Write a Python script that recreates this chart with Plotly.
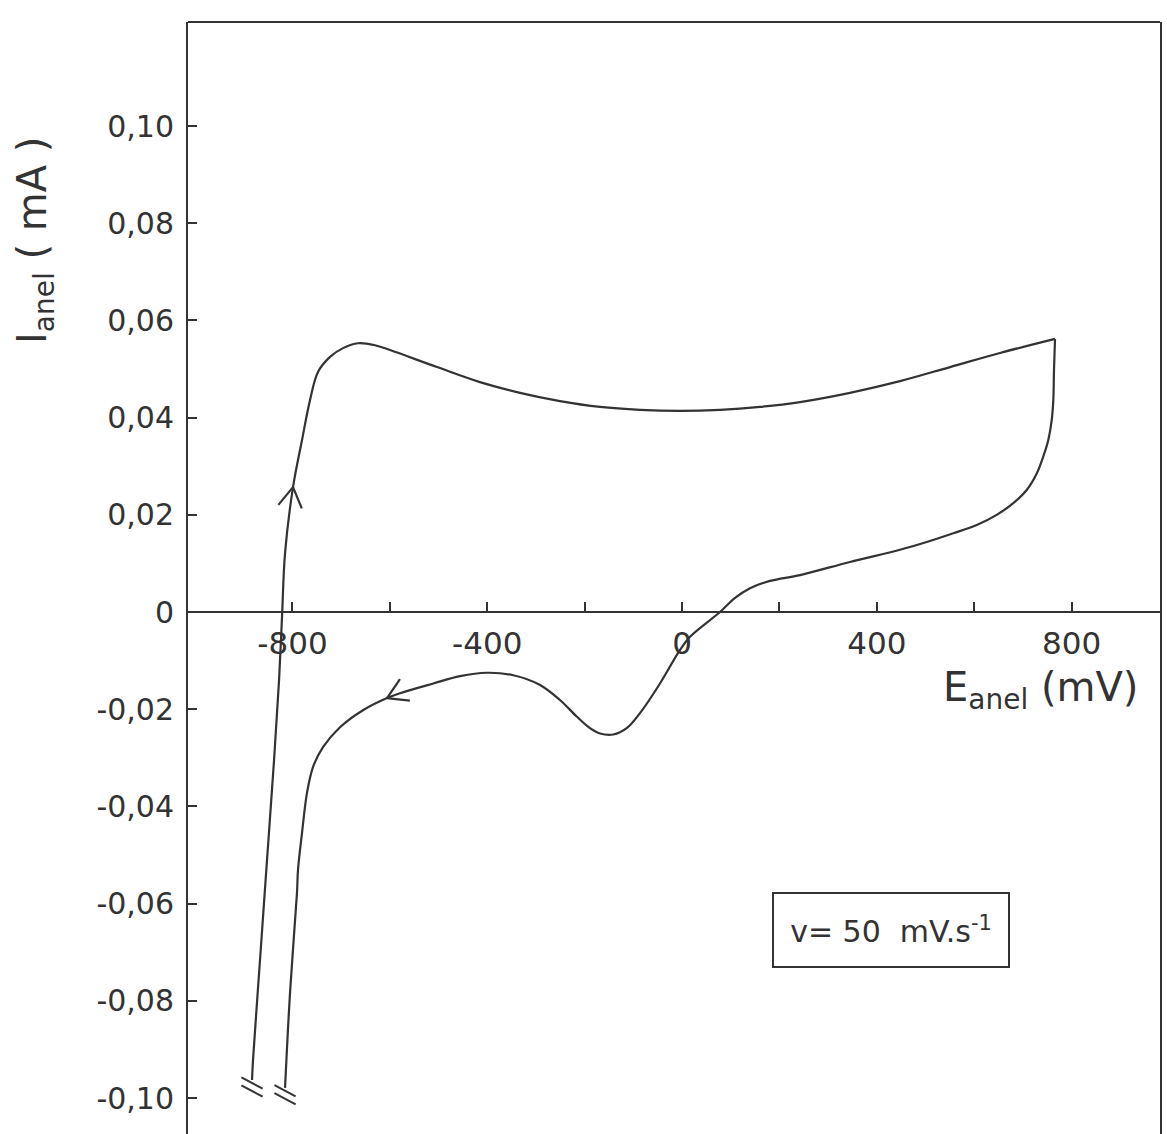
import math
import plotly.graph_objects as go

# ---------------- data ----------------
# anodic sweep (going up on the left, across the top to the vertex)
E_anodic = [-883.1, -881.1, -866.7, -852.3, -837.9, -827.6, -821.5, -815.3, -798.9, -780.4,
            -764.0, -747.6, -722.9, -696.2, -665.4, -630.5, -599.7, -503.2, -414.9, -332.7,
            -250.6, -168.4, -86.3, -4.1, 78.0, 160.2, 242.4, 345.0, 447.7, 550.4, 653.1, 766.1]
I_anodic = [-0.0963, -0.0922, -0.0716, -0.0510, -0.0305, -0.0140, -0.0010, 0.0121, 0.0257, 0.0354,
            0.0436, 0.0494, 0.0525, 0.0543, 0.0553, 0.0549, 0.0539, 0.0504, 0.0473, 0.0451,
            0.0434, 0.0422, 0.0416, 0.0414, 0.0416, 0.0422, 0.0432, 0.0451, 0.0475, 0.0504, 0.0533, 0.0562]
# cathodic sweep (from the vertex back down to the left)
E_cathodic = [766.1, 764.0, 762.6, 759.3, 752.3, 742.0, 728.5, 707.9, 680.4, 646.3, 605.3, 557.2,
              502.6, 447.7, 345.0, 242.4, 180.7, 139.7, 108.9, 78.0, 16.4, -4.1, -45.2, -86.3,
              -113.6, -141.1, -168.4, -189.0, -216.3, -250.6, -291.6, -346.5, -401.1, -455.9,
              -510.8, -579.2, -605.9, -655.2, -702.4, -737.3, -757.9, -770.2, -780.5, -788.7,
              -790.8, -805.1, -815.3]
I_cathodic = [0.0562, 0.0498, 0.0436, 0.0395, 0.0354, 0.0320, 0.0285, 0.0251, 0.0224, 0.0200, 0.0179,
              0.0162, 0.0144, 0.0128, 0.0103, 0.0076, 0.0064, 0.0049, 0.0029, 0.0000, -0.0051, -0.0078,
              -0.0147, -0.0208, -0.0239, -0.0252, -0.0250, -0.0239, -0.0215, -0.0181, -0.0150, -0.0130,
              -0.0125, -0.0132, -0.0147, -0.0167, -0.0177, -0.0202, -0.0237, -0.0278, -0.0319, -0.0372,
              -0.0455, -0.0531, -0.0578, -0.0784, -0.0979]

x_tickvals = [-800, -400, 0, 400, 800]
x_ticktext = ["-800", "-400", "0", "400", "800"]
x_minor_vals = [-600, -200, 200, 600]
y_tickvals = [-0.10, -0.08, -0.06, -0.04, -0.02, 0.0, 0.02, 0.04, 0.06, 0.08, 0.10]
y_ticktext = ["-0,10", "-0,08", "-0,06", "-0,04", "-0,02", "0", "0,02", "0,04", "0,06", "0,08", "0,10"]

x_title = "E<sub>anel</sub> (mV)"
y_title = "I<sub>anel</sub> ( mA )"
box_text = "v= 50&nbsp;&nbsp;mV.s<sup>-1</sup>"

# ---------------- layout geometry ----------------
W, H = 1167, 1134
ML, MR, MT, MB = 188, 7, 22, 0
XR = [-1014.6, 981.7]
YR = [-0.1074, 0.1214]
PW, PH = W - ML - MR, H - MT - MB
sx = PW / (XR[1] - XR[0])      # px per mV
sy = PH / (YR[1] - YR[0])      # px per mA

INK = "#333333"
FONT = "DejaVu Sans"


def chevron(xs, ys, i, half_angle_deg=31, length=23):
    """Open arrow head at point i, pointing along the direction of travel."""
    dx = (xs[i + 1] - xs[i - 1]) * sx
    dy = -(ys[i + 1] - ys[i - 1]) * sy
    n = math.hypot(dx, dy)
    bx, by = -dx / n, -dy / n
    ox, oy = [], []
    for s in (1, -1):
        a = math.radians(s * half_angle_deg)
        rx = bx * math.cos(a) - by * math.sin(a)
        ry = bx * math.sin(a) + by * math.cos(a)
        ox += [xs[i] + rx * length / sx, xs[i], None]
        oy += [ys[i] - ry * length / sy, ys[i], None]
    return ox, oy


def break_marks(x0, y0, offsets=(3, 11), half=12, ang_deg=28):
    ox, oy = [], []
    ca, sa = math.cos(math.radians(ang_deg)), math.sin(math.radians(ang_deg))
    for off in offsets:
        cx, cy = x0, y0 - off / sy
        ox += [cx - half * ca / sx, cx + half * ca / sx, None]
        oy += [cy + half * sa / sy, cy - half * sa / sy, None]
    return ox, oy


fig = go.Figure()
line_style = dict(color=INK, width=2.2)
curve_style = dict(color=INK, width=2.2, shape="spline", smoothing=1.0)

fig.add_trace(go.Scatter(x=E_anodic, y=I_anodic, mode="lines", line=curve_style,
                         hoverinfo="skip", showlegend=False))
fig.add_trace(go.Scatter(x=E_cathodic, y=I_cathodic, mode="lines", line=curve_style,
                         hoverinfo="skip", showlegend=False))

# arrows
ax1, ay1 = chevron(E_anodic, I_anodic, 8)
ax2, ay2 = chevron(E_cathodic, I_cathodic, 36)
fig.add_trace(go.Scatter(x=ax1 + ax2, y=ay1 + ay2, mode="lines", line=line_style,
                         hoverinfo="skip", showlegend=False))

# break marks at the truncated ends
bx1, by1 = break_marks(E_anodic[0], I_anodic[0])
bx2, by2 = break_marks(E_cathodic[-1], I_cathodic[-1])
fig.add_trace(go.Scatter(x=bx1 + bx2, y=by1 + by2, mode="lines", line=dict(color=INK, width=2),
                         hoverinfo="skip", showlegend=False))

xpos = (0 - YR[0]) / (YR[1] - YR[0])

fig.update_layout(
    width=W, height=H,
    margin=dict(l=ML, r=MR, t=MT, b=MB, pad=0),
    paper_bgcolor="white", plot_bgcolor="white",
    font=dict(family=FONT, color=INK),
    xaxis=dict(range=XR, showgrid=False, zeroline=False, showline=True, linecolor=INK, linewidth=2,
               ticks="inside", ticklen=9, tickwidth=1.5, tickcolor=INK,
               tickmode="array", tickvals=x_tickvals, ticktext=x_ticktext,
               tickfont=dict(size=31, color=INK),
               minor=dict(ticks="inside", tickmode="array", tickvals=x_minor_vals, ticklen=9,
                          tickwidth=1.5, tickcolor=INK, showgrid=False),
               anchor="free", position=xpos, ticklabelstandoff=4, fixedrange=True),
    yaxis=dict(range=YR, showgrid=False, zeroline=False, showline=True, mirror=True, linecolor=INK,
               linewidth=2, ticks="inside", ticklen=9, tickwidth=1.5, tickcolor=INK,
               tickvals=y_tickvals, ticktext=y_ticktext, tickfont=dict(size=30, color=INK),
               ticklabelstandoff=6, fixedrange=True),
    shapes=[dict(type="line", xref="paper", yref="paper", x0=0, x1=1, y0=1, y1=1,
                 line=dict(color=INK, width=2))],
    annotations=[
        dict(text=x_title, xref="paper", yref="paper", x=(1040 - ML) / PW, y=(H - 690) / PH,
             showarrow=False, font=dict(size=40, color=INK), xanchor="center", yanchor="middle"),
        dict(text=y_title, xref="paper", yref="paper", x=(35 - ML) / PW, y=(H - 241) / PH,
             showarrow=False, font=dict(size=40, color=INK), textangle=-90,
             xanchor="center", yanchor="middle"),
        dict(text=box_text, xref="paper", yref="paper", x=(891 - ML) / PW, y=(H - 930) / PH,
             showarrow=False, font=dict(size=30, color=INK), xanchor="center", yanchor="middle",
             bordercolor=INK, borderwidth=2, borderpad=0, width=234, height=72, bgcolor="white"),
    ],
)

fig.write_html("out.html", config={"displayModeBar": False})
